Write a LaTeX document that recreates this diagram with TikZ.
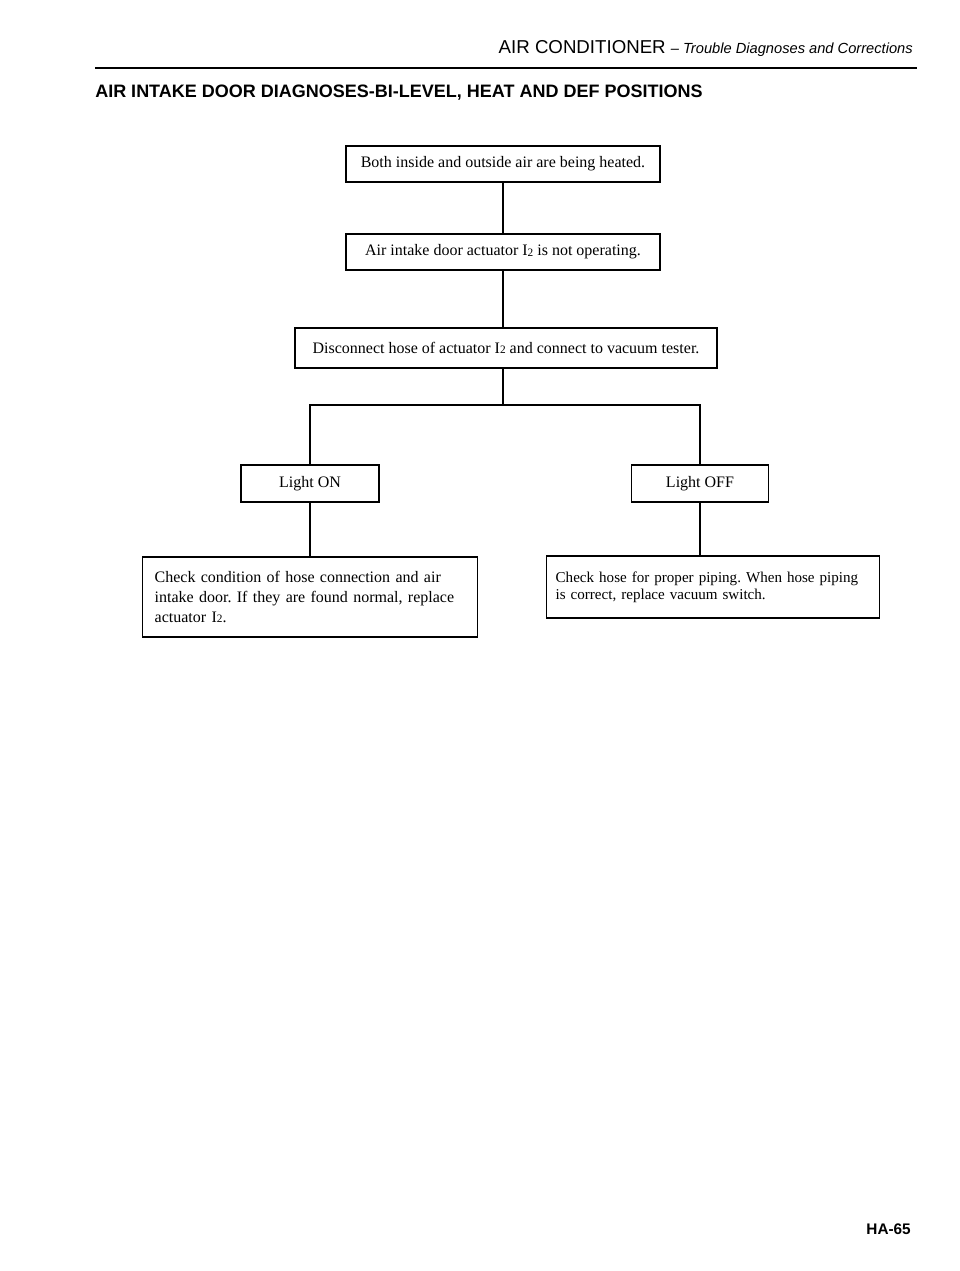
\documentclass[tikz,border=0pt]{standalone}
\usepackage{fontspec}
\setmainfont{Liberation Serif}
\setsansfont{Liberation Sans}
\usetikzlibrary{positioning}
\frenchspacing

\newcommand{\actno}{I{\fontsize{8.5}{10}\selectfont\raisebox{-0.5pt}{2}}}

\begin{document}
\begin{tikzpicture}[x=0.75pt, y=-0.75pt,
	flowbox/.style={draw, line width=1.1pt, rectangle, inner sep=0pt, minimum height=27pt, font=\fontsize{12}{15}\selectfont},
	notebox/.style={flowbox, align=left, text width=236pt, inner xsep=7pt},
	link/.style={line width=1pt}]
	
	\useasboundingbox (0,0) rectangle (960,1271);
	
	%//page heading
	\node [anchor=base east, inner sep=0pt, font=\sffamily] (head) at (913,53) {\fontsize{14}{16}\selectfont AIR CONDITIONER {\fontsize{11}{13}\selectfont\itshape -- Trouble Diagnoses and Corrections}};
	\draw [line width=2.2pt] (95,68) -- (917,68);
	\node [anchor=base west, inner sep=0pt, font=\sffamily\bfseries\fontsize{13.5}{16}\selectfont] (title) at (95,97) {AIR INTAKE DOOR DIAGNOSES-BI-LEVEL, HEAT AND DEF POSITIONS};
	
	%//chart
	\node [flowbox, minimum width=235.5pt] (heated) at (503,164) {Both inside and outside air are being heated.};
	\node [flowbox, minimum width=235.5pt] (notop) at (503,252) {Air intake door actuator \actno{} is not operating.};
	\node [flowbox, minimum width=316.5pt, minimum height=30pt] (tester) at (506,348) {Disconnect hose of actuator \actno{} and connect to vacuum tester.};
	
	\node [flowbox, minimum width=103.5pt, minimum height=27.75pt] (lighton) at (310,483.5) {Light ON};
	\node [flowbox, minimum width=103pt, minimum height=27.75pt] (lightoff) at (700,483.5) {Light OFF};
	
	\node [notebox, minimum height=60pt, inner xsep=9pt, text width=233pt] (checkdoor) at (310,597) {Check condition of hose connection and air\\ intake door. If they are found normal, replace\\ actuator \actno.};
	\node [notebox, minimum height=46.5pt, font=\fontsize{11.3}{13}\selectfont] (checkpipe) at (713,587) {Check hose for proper piping. When hose piping\\ is correct, replace vacuum switch.};
	
	\coordinate (split) at (503,405);
	
	\draw [link] (heated) -- (notop);
	\draw [link] (notop.south) -- (notop.south |- tester.north);
	\draw [link] (tester.south -| notop) -- (split);
	\draw [link] (lighton.north) |- (split) -| (lightoff.north);
	\draw [link] (lighton.south) -- (lighton.south |- checkdoor.north);
	\draw [link] (lightoff.south) -- (lightoff.south |- checkpipe.north);
	
	%//page number
	\node [anchor=base east, inner sep=0pt, font=\sffamily\bfseries\fontsize{11.5}{13}\selectfont] (page) at (911,1234) {HA-65};
	
\end{tikzpicture}
\end{document}
